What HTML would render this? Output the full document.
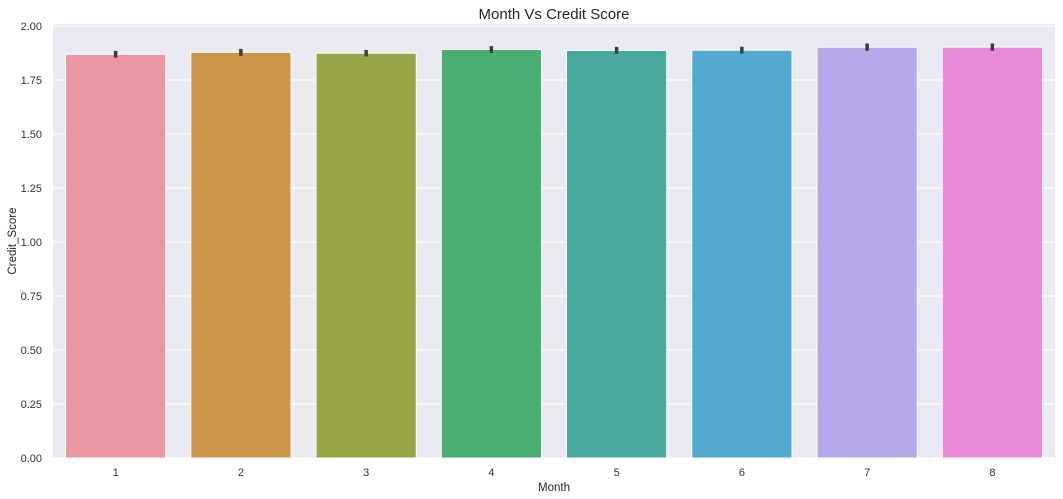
<!DOCTYPE html>
<html><head><meta charset="utf-8"><style>
html,body{margin:0;padding:0;background:#fff;}
svg{display:block;font-family:"Liberation Sans",Arial,sans-serif;}
</style></head><body>
<svg id="chart" width="1063" height="499">
<rect x="53" y="24" width="1002" height="434" fill="#eaeaf2"/>
<g id="grid"></g><g id="bars"></g><g id="ticks"></g>
<text x="554" y="19" text-anchor="middle" font-size="15" fill="#262626">Month Vs Credit Score</text>
<text x="554" y="491" text-anchor="middle" font-size="11.5" fill="#262626">Month</text>
<text transform="translate(16,241) rotate(-90)" text-anchor="middle" font-size="11.5" fill="#262626">Credit_Score</text>
</svg>
<script>
const categories=["1","2","3","4","5","6","7","8"];
const values=[1.869,1.878,1.874,1.891,1.887,1.888,1.902,1.902];
const errors=[0.016,0.016,0.015,0.016,0.016,0.016,0.017,0.017];
const yTicks=[0,0.25,0.5,0.75,1,1.25,1.5,1.75,2];
const yTickLabels=["0.00","0.25","0.50","0.75","1.00","1.25","1.50","1.75","2.00"];
const colors=["#ea96a3","#cb9649","#98a446","#4aae72","#4aa99e","#53aace","#b7a8ec","#e78ad8"];
const NS="http://www.w3.org/2000/svg";
const L=53,W=1002,Y0=458,PX=216;
const y=v=>Y0-v*PX;
const band=W/categories.length;
const xc=i=>L+band*(i+0.5);
function mk(t,a,p){const e=document.createElementNS(NS,t);for(const k in a)e.setAttribute(k,a[k]);p.appendChild(e);return e;}
const grid=document.getElementById('grid'),bars=document.getElementById('bars'),ticks=document.getElementById('ticks');
yTicks.forEach((t,i)=>{
 const g=mk('line',{x1:L,x2:L+W,y1:y(t),y2:y(t),stroke:'#fff','stroke-width':1.2},grid);
 
 
 const tx=mk('text',{x:L-11,y:y(t)+4,'text-anchor':'end','font-size':11,fill:'#333'},ticks);
 tx.textContent=yTickLabels[i];
 
 
});
categories.forEach((c,i)=>{
 const bw=band*0.8;
 const r=mk('rect',{x:xc(i)-bw/2,y:y(values[i]),width:bw,height:Y0-y(values[i]),fill:colors[i],stroke:'#fff','stroke-width':1},bars);
 
 
 const e=mk('line',{x1:xc(i),x2:xc(i),y1:y(values[i]+errors[i]),y2:y(values[i]-errors[i]),stroke:'#3d3d3d','stroke-width':3.5},bars);
 
 
 const tx=mk('text',{x:xc(i),y:476,'text-anchor':'middle','font-size':11,fill:'#333'},ticks);
 tx.textContent=c;
 
 
});
</script>
</body></html>
